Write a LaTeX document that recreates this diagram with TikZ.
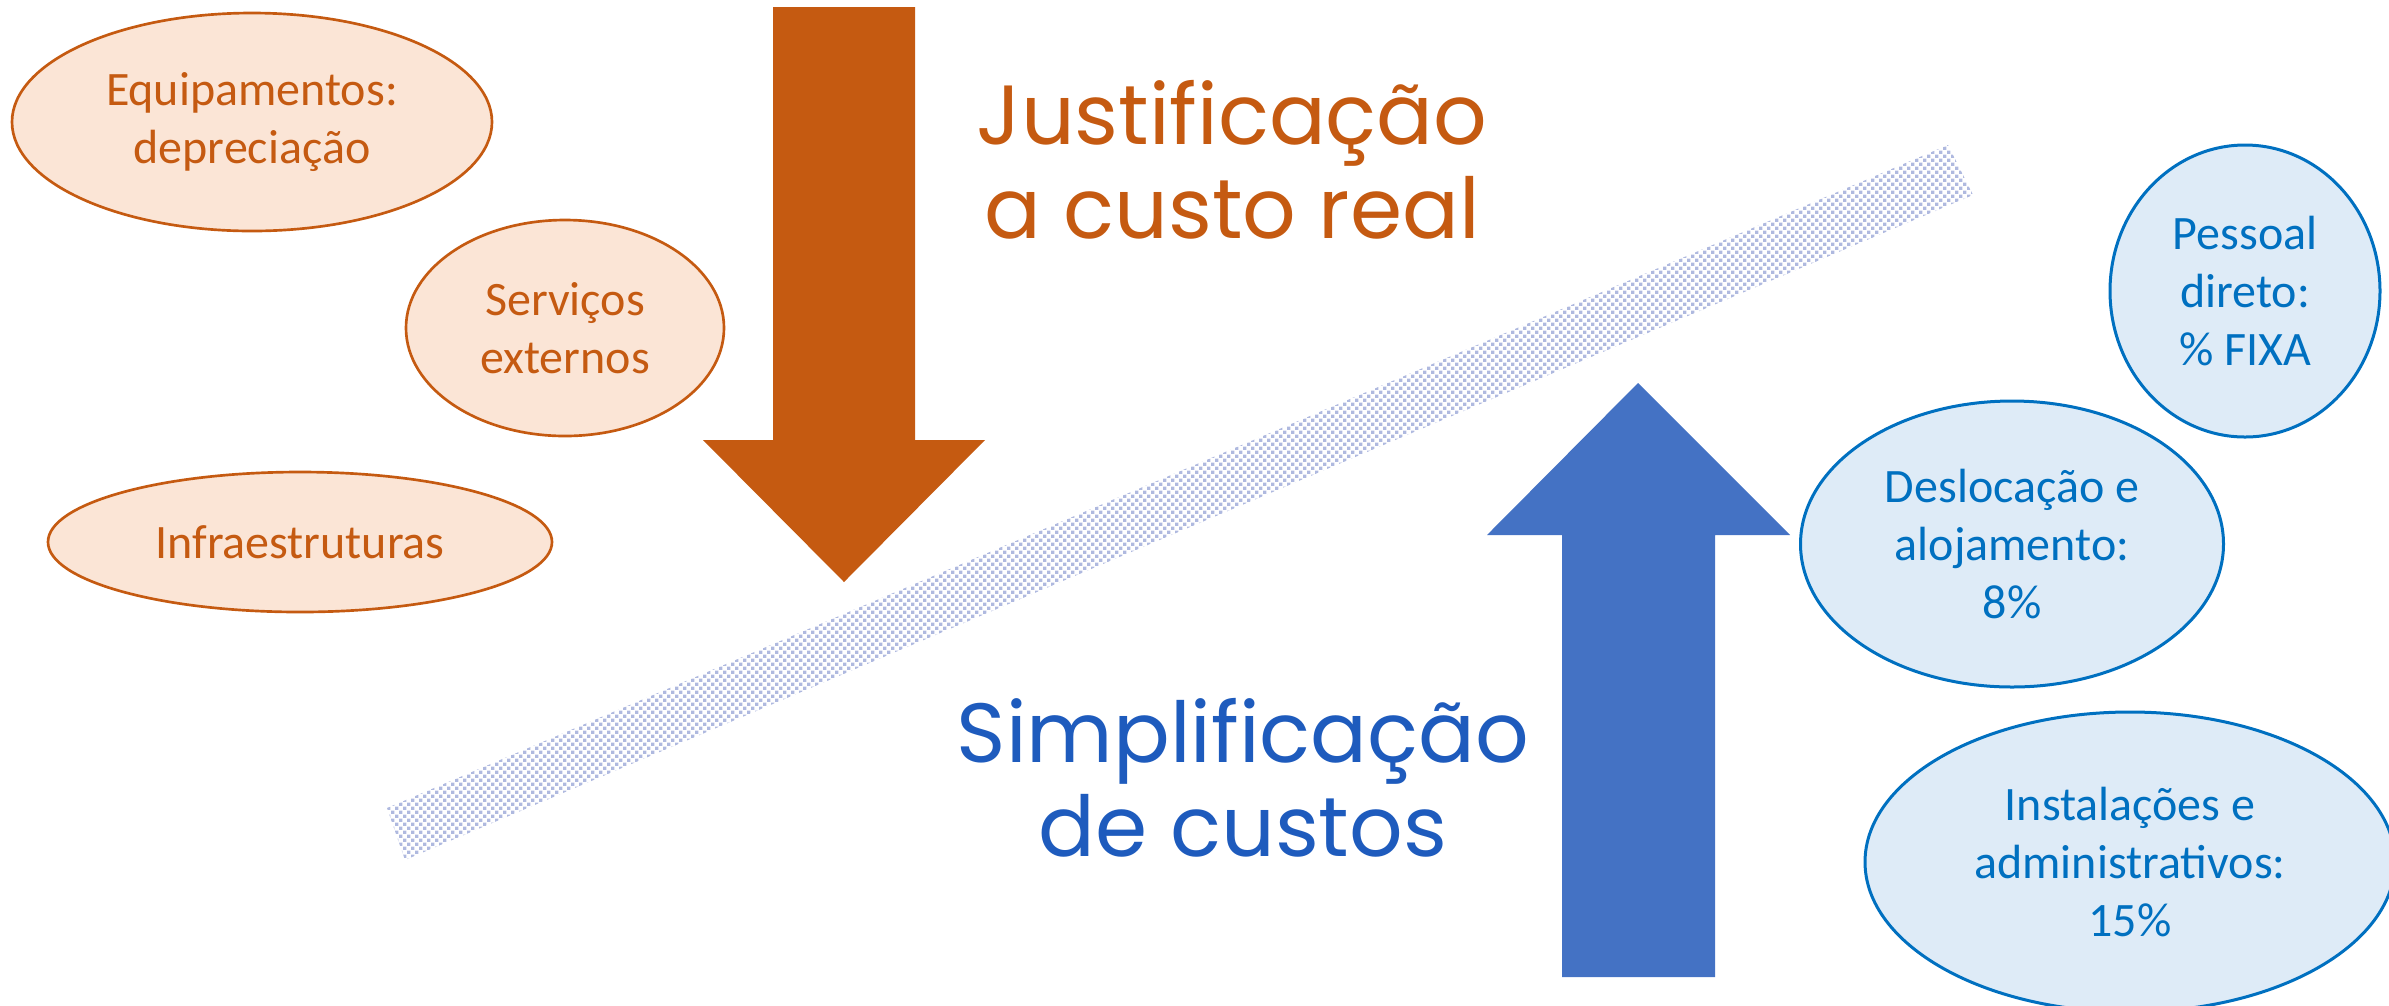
\documentclass[tikz,border=0pt]{standalone}
\usepackage{fontspec}
\setmainfont{Carlito}
\newfontfamily\titlefont{Poppins}
\usetikzlibrary{patterns,shapes.geometric}
\definecolor{orangeC}{HTML}{C55A11}
\definecolor{orangeF}{HTML}{FBE5D6}
\definecolor{blueC}{HTML}{0070C0}
\definecolor{blueF}{HTML}{DEEBF7}
\definecolor{blueArrow}{HTML}{4472C4}
\definecolor{blueTitle}{HTML}{1E5BBD}
\definecolor{bandDots}{HTML}{AFB9DF}
\pgfdeclarepatternformonly{bandcheck}{\pgfpointorigin}{\pgfqpoint{2.4pt}{2.4pt}}{\pgfqpoint{2.4pt}{2.4pt}}{%
  \pgfpathrectangle{\pgfpointorigin}{\pgfqpoint{1.05pt}{1.05pt}}%
  \pgfpathrectangle{\pgfqpoint{1.2pt}{1.2pt}}{\pgfqpoint{1.05pt}{1.05pt}}%
  \pgfusepath{fill}}
\begin{document}
\begin{tikzpicture}[x=0.3pt,y=-0.3pt,
  realcost/.style={ellipse, draw=orangeC, fill=orangeF, line width=0.8pt, text=orangeC,
    align=center, inner sep=0pt, font=\fontsize{14.4}{17.4}\selectfont},
  simplecost/.style={ellipse, draw=blueC, fill=blueF, line width=0.9pt, text=blueC,
    align=center, inner sep=0pt, font=\fontsize{14.4}{17.4}\selectfont},
  bigtitle/.style={align=center, inner sep=0pt, font=\titlefont\fontsize{25.2}{28.2}\selectfont}
]
\useasboundingbox (0,0) rectangle (2389,1005);

% diagonal dotted band
\fill[pattern=bandcheck, pattern color=bandDots]
  (387,808) -- (405,860) -- (1973,195) -- (1948,145) -- cycle;

% orange down arrow
\fill[orangeC] (773,7) -- (915,7) -- (915,440) -- (985,440) -- (844,582)
  -- (703,440) -- (773,440) -- cycle;

% blue up arrow
\fill[blueArrow] (1562,977) -- (1715,977) -- (1715,535) -- (1790,535) -- (1638,383)
  -- (1487,535) -- (1562,535) -- cycle;

% orange ellipses
\node[realcost, minimum width=144pt, minimum height=65.4pt] (equip) at (252,122)
  {Equipamentos:\\depreciação};
\node[realcost, minimum width=95.4pt, minimum height=64.8pt] (serv) at (565,328)
  {Serviços\\externos};
\node[realcost, minimum width=151.2pt, minimum height=42pt] (infra) at (300,542)
  {Infraestruturas};

% blue ellipses
\node[simplecost, minimum width=81pt, minimum height=87.6pt] (pess) at (2245,291)
  {Pessoal\\direto:\\\% FIXA};
\node[simplecost, minimum width=126.9pt, minimum height=85.8pt] (desl) at (2012,544)
  {Deslocação e\\alojamento:\\8\%};
\node[simplecost, minimum width=159pt, minimum height=90pt] (inst) at (2130,862)
  {Instalações e\\administrativos:\\15\%};

% titles
\node[bigtitle, text=orangeC] (just) at (1232,160) {Justificação\\a custo real};
\node[bigtitle, text=blueTitle] (simp) at (1243,778) {Simplificação\\de custos};
\end{tikzpicture}
\end{document}
